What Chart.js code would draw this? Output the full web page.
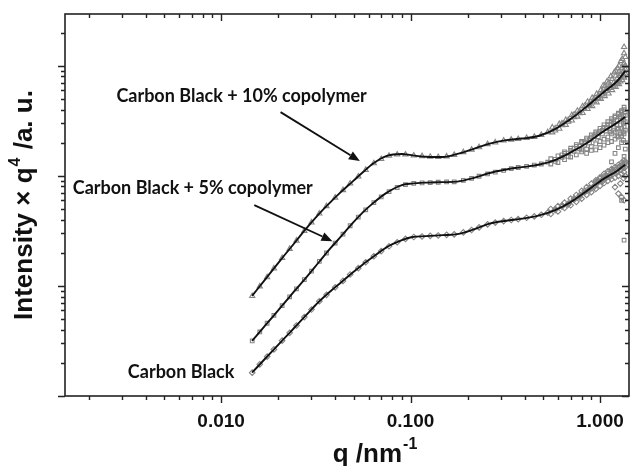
<!DOCTYPE html>
<html>
<head>
<meta charset="utf-8">
<script src="https://cdn.jsdelivr.net/npm/chart.js@4/dist/chart.umd.min.js"></script>
<style>
  html, body { margin: 0; padding: 0; background: #ffffff; }
  canvas { display: block; }
</style>
</head>
<body>
<canvas id="c" width="644" height="466"></canvas>
<script>
// ---- SAXS curves: Intensity x q^4 versus q (log-log) ----

// fitted model curves (black lines)
const qFit   = [0.01457, 0.01706, 0.0210, 0.02435, 0.0281, 0.0328, 0.0378, 0.0431, 0.0497, 0.0558, 0.0630, 0.0743, 0.0900, 0.101, 0.121, 0.148, 0.1766, 0.2138, 0.2615, 0.320, 0.387, 0.473, 0.579, 0.700, 0.857, 1.049, 1.223, 1.33, 1.36];
const fitCB10 = [8.11, 11.4, 17.9, 24.4, 33.1, 44.9, 57.7, 71.8, 89.5, 107, 128, 151, 158, 154, 149, 148, 158, 175, 196, 211, 218, 230, 266, 328, 430, 577, 715, 853, 900];
const fitCB5  = [3.16, 4.35, 6.61, 8.95, 11.9, 16.4, 22.0, 28.3, 37.5, 46.3, 55.9, 69.6, 82.3, 85.0, 86.8, 87.6, 88.6, 95.3, 106, 114, 120, 126, 139, 163, 200, 255, 301, 333, 343];
const fitCB   = [1.63, 2.18, 3.18, 4.17, 5.42, 7.18, 8.95, 10.8, 13.3, 15.6, 18.2, 22.3, 26.0, 27.7, 28.3, 28.9, 29.5, 32.4, 36.8, 39.1, 40.8, 43.5, 48.8, 57.7, 73.4, 94.3, 110, 123, 126];

// measured points (open grey symbols)
const qData = [0.0146, 0.016, 0.0175, 0.019, 0.021, 0.023, 0.025, 0.0275, 0.030, 0.033, 0.036, 0.040, 0.044, 0.048, 0.053, 0.058, 0.064, 0.070, 0.077, 0.085, 0.094, 0.104, 0.115, 0.127, 0.14, 0.155, 0.17, 0.19, 0.21, 0.23, 0.255, 0.28, 0.31, 0.34, 0.37, 0.41, 0.45, 0.49, 0.53, 0.58, 0.63, 0.68, 0.73, 0.78, 0.83, 0.88, 0.93, 0.98, 1.03, 1.08, 1.13, 1.18, 1.23, 1.28, 1.33, 1.36];
const dataCB10 = [8.1, 9.9, 12.0, 14.4, 17.9, 21.7, 25.8, 31.6, 37.7, 45.4, 53.0, 63.4, 74.2, 85.1, 98.6, 113, 130, 142, 152, 156, 156, 153, 151, 149, 148, 150, 155, 164, 173, 182, 194, 201, 209, 213, 216, 221, 226, 235, 249, 270, 288, 322, 340, 386, 405, 455, 476, 535, 548, 615, 628, 700, 705, 810, 835, 930];
const dataCB5  = [3.17, 3.82, 4.58, 5.41, 6.61, 7.96, 9.42, 11.4, 13.6, 16.7, 19.9, 24.5, 29.5, 35.2, 42.2, 49.1, 57.1, 64.3, 71.8, 78.3, 83.3, 85.2, 86.3, 86.9, 87.4, 87.9, 88.3, 91.0, 94.6, 99.1, 104, 108, 112, 116, 119, 122, 125, 128, 133, 141, 147, 161, 167, 186, 190, 212, 215, 242, 240, 272, 268, 300, 292, 330, 320, 355];
const dataCB   = [1.63, 1.94, 2.28, 2.65, 3.18, 3.75, 4.37, 5.21, 6.10, 7.26, 8.30, 9.71, 11.1, 12.7, 14.5, 16.4, 18.6, 20.7, 22.9, 24.9, 26.7, 27.8, 28.1, 28.5, 28.7, 29.1, 29.4, 30.6, 32.2, 34.0, 36.2, 37.6, 38.8, 39.7, 40.4, 41.6, 42.8, 44.3, 46.3, 48.8, 52.5, 56.1, 60.6, 66.5, 70.6, 74.5, 81.2, 88.0, 92.2, 95.5, 102, 108, 111, 114, 123, 130];

// extra high-q points where the statistics get noisy  [q, I]
const spreadCB10 = [[0.56,275],[0.56,248],[0.61,296],[0.61,268],[0.66,322],[0.66,290],[0.71,356],[0.71,318],[0.76,390],[0.76,345],[0.81,428],[0.81,372],[0.86,470],[0.86,405],[0.91,510],[0.91,430],[0.96,555],[0.96,465],[1.01,600],[1.01,500],[1.06,650],[1.06,530],[1.11,700],[1.11,560],[1.16,760],[1.16,600],[1.21,810],[1.21,640],[1.21,900],[1.26,880],[1.26,680],[1.26,1000],[1.31,960],[1.31,740],[1.31,1150],[1.34,1050],[1.34,780],[1.34,1300],[1.34,1480],
  [0.58,258],[0.63,300],[0.68,310],[0.73,360],[0.78,370],[0.83,430],[0.88,440],[0.93,500],[0.98,510],[1.03,580],[1.08,590],[1.13,670],[1.18,650],[1.23,760],[1.23,690],[1.28,840],[1.28,720],[1.33,900],[1.33,800],[1.36,1000],[1.36,850],[1.36,1200],[1.29,1100],[1.24,950],[1.19,870],[1.14,800],[1.09,720],[1.04,660]];
const spreadCB5 = [[0.55,143],[0.55,128],[0.60,152],[0.60,132],[0.65,165],[0.65,140],[0.65,160],[0.70,178],[0.70,148],[0.70,170],[0.75,192],[0.75,155],[0.75,185],[0.80,205],[0.80,165],[0.80,200],[0.80,172],[0.85,220],[0.85,175],[0.85,212],[0.85,160],[0.90,235],[0.90,185],[0.90,225],[0.90,170],[0.95,250],[0.95,195],[0.95,240],[0.95,172],[1.00,270],[1.00,205],[1.00,255],[1.00,180],[1.05,290],[1.05,215],[1.05,275],[1.05,190],[1.10,310],[1.10,225],[1.10,295],[1.10,200],[1.15,330],[1.15,240],[1.15,315],[1.15,205],[1.15,134],[1.20,350],[1.20,250],[1.20,340],[1.20,215],[1.20,160],[1.25,370],[1.25,265],[1.25,360],[1.25,225],[1.25,180],[1.30,390],[1.30,270],[1.30,380],[1.30,230],[1.30,60],[1.30,200],[1.34,420],[1.34,280],[1.34,400],[1.34,240],[1.34,26],[1.34,150],
  [0.58,135],[0.63,155],[0.68,150],[0.73,178],[0.78,176],[0.83,200],[0.88,198],[0.93,228],[0.98,226],[1.03,258],[1.08,255],[1.13,290],[1.13,250],[1.18,310],[1.18,260],[1.23,320],[1.23,270],[1.23,230],[1.28,345],[1.28,290],[1.28,240],[1.33,350],[1.33,300],[1.33,250],[1.33,210],[1.36,380],[1.36,310],[1.36,260],[1.36,200],[1.36,175]];
const spreadCB = [[0.55,50],[0.55,45],[0.60,53],[0.60,47.5],[0.65,57],[0.65,51],[0.70,62],[0.70,54],[0.75,67],[0.75,58],[0.80,73],[0.80,62],[0.85,79],[0.85,67],[0.90,85],[0.90,71],[0.95,91],[0.95,76],[0.95,88],[1.00,97],[1.00,81],[1.00,94],[1.05,104],[1.05,86],[1.05,99],[1.10,110],[1.10,90],[1.10,105],[1.15,115],[1.15,93],[1.15,110],[1.20,120],[1.20,96],[1.20,114],[1.20,79],[1.25,126],[1.25,100],[1.25,120],[1.25,69],[1.30,132],[1.30,104],[1.30,126],[1.30,64],[1.34,138],[1.34,108],[1.34,130],[1.34,60],
  [0.58,50],[0.63,54],[0.68,55],[0.73,62.5],[0.78,64],[0.83,73],[0.88,77.5],[0.93,79],[0.98,90],[1.03,89],[1.08,100],[1.13,98],[1.18,112],[1.23,107],[1.28,121],[1.33,118],[1.36,135],[1.36,120],[1.36,100],[1.33,95],[1.28,85]];

// axis ranges and decade tick values
const xRange = [0.0015, 1.44];
const yRange = [1, 2950];
const xDecades = [0.001, 0.01, 0.1, 1];
const yDecades = [1, 10, 100, 1000];

// text labels with arrows, anchored in data coordinates
const labels = [
  { text: 'Carbon Black + 10% copolymer', q: 0.01283, I: 530,  arrowFrom: [0.0206, 379], arrowTo: [0.054, 136] },
  { text: 'Carbon Black + 5% copolymer',  q: 0.00709, I: 76.5, arrowFrom: [0.01497, 54.2], arrowTo: [0.0387, 25.5] },
  { text: 'Carbon Black',                 q: 0.00615, I: 1.64 }
];

const GREY = '#858585';
const pairs = (xs, ys) => xs.map((x, i) => ({ x, y: ys[i] }));
const spread = arr => arr.map(p => ({ x: p[0], y: p[1] }));

function pointsSet(label, pts, style, radius) {
  return {
    type: 'scatter', label, data: pts, order: 2,
    pointStyle: style, pointRadius: radius, pointHoverRadius: radius,
    borderColor: GREY, backgroundColor: 'rgba(0,0,0,0)', pointBorderWidth: 1.1,
    showLine: false
  };
}
function fitSet(label, ys) {
  return {
    type: 'line', label, data: pairs(qFit, ys), order: 0,
    borderColor: '#111111', borderWidth: 1.9, pointRadius: 0,
    cubicInterpolationMode: 'monotone', fill: false
  };
}

const datasets = [
  fitSet('fit 10%', fitCB10),
  fitSet('fit 5%', fitCB5),
  fitSet('fit CB', fitCB),
  pointsSet('Carbon Black + 10% copolymer', pairs(qData, dataCB10).concat(spread(spreadCB10)), 'triangle', 3),
  pointsSet('Carbon Black + 5% copolymer', pairs(qData, dataCB5).concat(spread(spreadCB5)), 'rect', 2.6),
  pointsSet('Carbon Black', pairs(qData, dataCB).concat(spread(spreadCB)), 'rectRot', 2.8)
];

// frame with log tick marks on all four sides
const framePlugin = {
  id: 'frame',
  afterDatasetsDraw(chart) {
    const { ctx, chartArea: a, scales: { x, y } } = chart;
    ctx.save();
    ctx.strokeStyle = '#222222';
    ctx.lineWidth = 1.6;
    ctx.strokeRect(a.left, a.top, a.right - a.left - 1, a.bottom - a.top);
    ctx.lineWidth = 1.4;
    ctx.beginPath();
    xDecades.forEach(d => {
      for (let m = 1; m <= 9; m++) {
        const v = d * m;
        if (v < xRange[0] || v > xRange[1]) continue;
        const px = Math.round(x.getPixelForValue(v)) + 0.5;
        const len = m === 1 ? 7 : 4;
        ctx.moveTo(px, a.bottom); ctx.lineTo(px, a.bottom + len);
        ctx.moveTo(px, a.top); ctx.lineTo(px, a.top + len);
      }
    });
    yDecades.forEach(d => {
      for (let m = 1; m <= 9; m++) {
        const v = d * m;
        if (v < yRange[0] || v > yRange[1]) continue;
        const py = Math.round(y.getPixelForValue(v)) + 0.5;
        const len = m === 1 ? 7 : 4;
        ctx.moveTo(a.left, py); ctx.lineTo(a.left - len, py);
        ctx.moveTo(a.right - 1, py); ctx.lineTo(a.right - 1 - len, py);
      }
    });
    ctx.stroke();
    ctx.restore();
  },
  afterDraw(chart) {
    const { ctx, chartArea: a, scales: { x, y } } = chart;
    ctx.save();
    ctx.fillStyle = '#111111';
    ctx.strokeStyle = '#111111';

    // annotation labels and arrows
    ctx.font = 'bold 18px Lato';
    ctx.textAlign = 'center';
    ctx.textBaseline = 'middle';
    labels.forEach(l => {
      ctx.fillText(l.text, x.getPixelForValue(l.q), y.getPixelForValue(l.I));
      if (l.arrowFrom) {
        const x0 = x.getPixelForValue(l.arrowFrom[0]), y0 = y.getPixelForValue(l.arrowFrom[1]);
        const x1 = x.getPixelForValue(l.arrowTo[0]), y1 = y.getPixelForValue(l.arrowTo[1]);
        const ang = Math.atan2(y1 - y0, x1 - x0);
        const head = 11, half = 4.5;
        const bx = x1 - head * Math.cos(ang), by = y1 - head * Math.sin(ang);
        ctx.lineWidth = 1.8;
        ctx.beginPath(); ctx.moveTo(x0, y0); ctx.lineTo(bx, by); ctx.stroke();
        ctx.beginPath();
        ctx.moveTo(x1, y1);
        ctx.lineTo(bx + half * Math.sin(ang), by - half * Math.cos(ang));
        ctx.lineTo(bx - half * Math.sin(ang), by + half * Math.cos(ang));
        ctx.closePath(); ctx.fill();
      }
    });

    // axis titles with superscripts
    const main = 'bold 26px "Liberation Sans"';
    const sup = 'bold 16px "Liberation Sans"';
    ctx.textAlign = 'left';
    ctx.textBaseline = 'alphabetic';

    // x title
    ctx.font = main;
    const xt1 = 'q /nm';
    const w1 = ctx.measureText(xt1).width;
    ctx.font = sup;
    const w2 = ctx.measureText('-1').width;
    const xStart = (a.left + a.right) / 2 + 27 - (w1 + w2) / 2;
    ctx.font = main;
    ctx.fillText(xt1, xStart, 461.5);
    ctx.font = sup;
    ctx.fillText('-1', xStart + w1 + 1, 449);

    // y title (rotated)
    ctx.translate(32, (a.top + a.bottom) / 2);
    ctx.rotate(-Math.PI / 2);
    const p1 = 'Intensity \u00d7 q', p2 = '4', p3 = ' /a. u.';
    ctx.font = main; const a1 = ctx.measureText(p1).width, a3 = ctx.measureText(p3).width;
    ctx.font = sup;  const a2 = ctx.measureText(p2).width + 2;
    let s = -(a1 + a2 + a3) / 2;
    ctx.font = main; ctx.fillText(p1, s, 0);
    ctx.font = sup;  ctx.fillText(p2, s + a1 + 1, -12);
    ctx.font = main; ctx.fillText(p3, s + a1 + a2, 0);
    ctx.restore();
  }
};

new Chart(document.getElementById('c'), {
  data: { datasets },
  options: {
    responsive: false,
    devicePixelRatio: 1,
    animation: false,
    layout: { padding: { top: 14, right: 0, left: 0, bottom: 0 } },
    plugins: { legend: { display: false }, tooltip: { enabled: false } },
    scales: {
      x: {
        type: 'logarithmic', position: 'bottom',
        min: xRange[0], max: xRange[1],
        grid: { display: false, drawTicks: false },
        border: { display: false },
        ticks: {
          autoSkip: false, maxRotation: 0, padding: 14,
          color: '#111111',
          font: { family: 'Liberation Sans', weight: 'bold', size: 19 },
          callback(v) {
            const l = Math.log10(v);
            return Math.abs(l - Math.round(l)) < 1e-6 ? Number(v).toFixed(3) : '';
          }
        },
        afterFit(scale) { scale.height = 70; }
      },
      y: {
        type: 'logarithmic', position: 'left',
        min: yRange[0], max: yRange[1],
        grid: { display: false, drawTicks: false },
        border: { display: false },
        ticks: { display: false },
        afterFit(scale) { scale.width = 65; }
      }
    }
  },
  plugins: [framePlugin]
});
</script>
</body>
</html>
